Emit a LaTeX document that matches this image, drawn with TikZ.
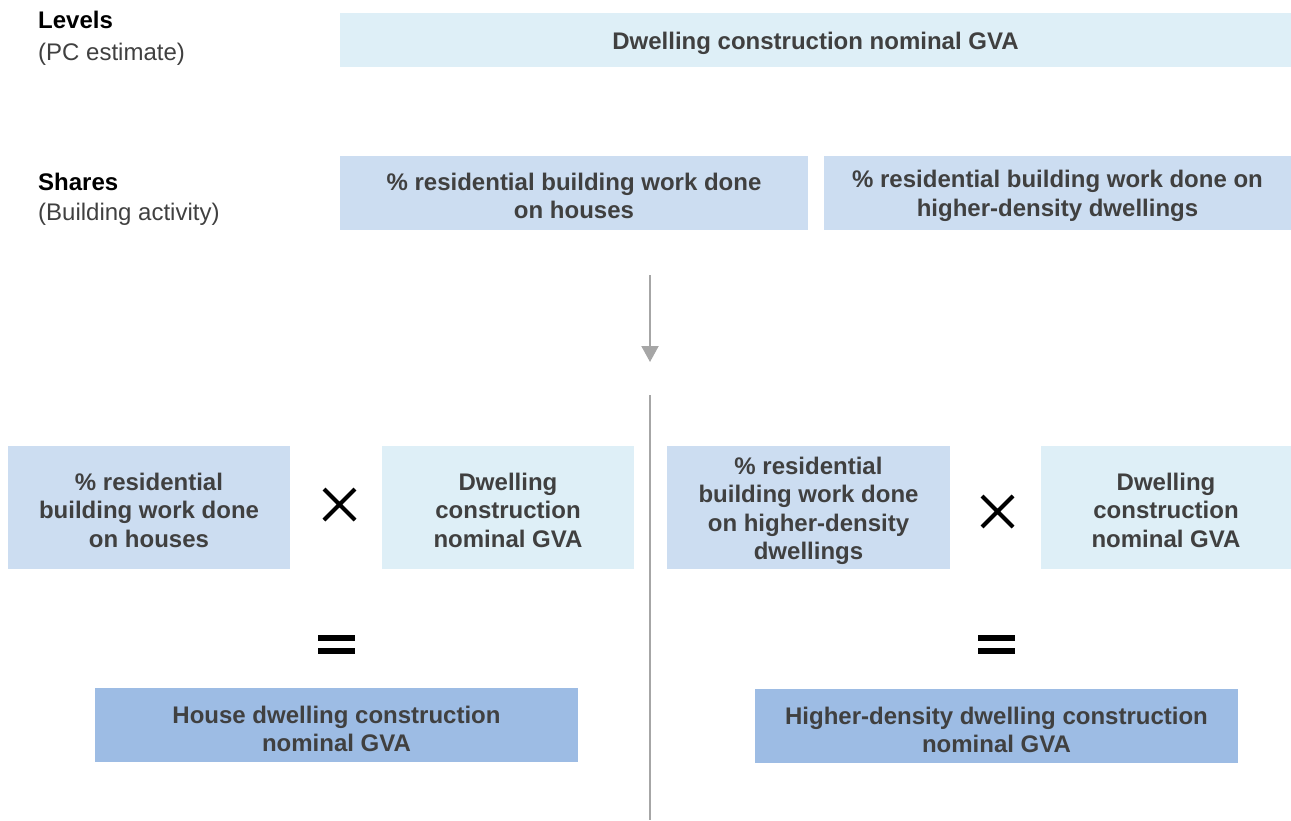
\documentclass[tikz,border=0pt]{standalone}
\usepackage{fontspec}
\setmainfont{Liberation Sans}
\usetikzlibrary{arrows.meta}
\definecolor{lvl}{HTML}{DEEFF7}
\definecolor{shr}{HTML}{CCDDF1}
\definecolor{res}{HTML}{9DBCE4}
\definecolor{txt}{HTML}{404040}
\definecolor{ln}{HTML}{A6A6A6}
\tikzset{
  boxbase/.style={inner sep=0pt, align=center, text=txt, font=\fontsize{24}{28.5}\selectfont\bfseries},
  lvlbox/.style={boxbase, fill=lvl},
  shrbox/.style={boxbase, fill=shr},
  resbox/.style={boxbase, fill=res},
  hdr/.style={anchor=west, inner sep=0pt, font=\fontsize{24}{28}\selectfont\bfseries, text=black},
  sub/.style={anchor=west, inner sep=0pt, font=\fontsize{24}{28}\selectfont, text=txt},
  op/.style={line width=4.2pt, black},
  eq/.style={line width=6pt, black},
}
\begin{document}
\begin{tikzpicture}[x=1pt,y=-1pt]
\useasboundingbox (0,0) rectangle (1291,820);
% labels
\node[hdr] (lv) at (38,20) {Levels};
\node[sub] (lvs) at (38,54) {(PC estimate)};
\node[hdr] (sh) at (38,182) {Shares};
\node[sub] (shs) at (38,214) {(Building activity)};
% top boxes
\path[fill=lvl] (340,13) rectangle (1291,67);
\node[boxbase] (top) at (815.5,43) {Dwelling construction nominal GVA};
\path[fill=shr] (340,156) rectangle (808,230);
\node[boxbase] (shl) at (574,196) {\% residential building work done\\on houses};
\path[fill=shr] (824,156) rectangle (1291,230);
\node[boxbase] (shr) at (1057.5,196) {\% residential building work done on\\higher-density dwellings};
% arrow and divider
\coordinate (a1) at (650,275);
\coordinate (a2) at (650,362);
\draw[ln, line width=2pt, -{Triangle[length=16pt,width=17pt]}] (a1) -- (a2);
\coordinate (d1) at (650,395);
\coordinate (d2) at (650,820);
\draw[ln, line width=2pt] (d1) -- (d2);
% bottom row
\path[fill=shr] (8,446) rectangle (290,569);
\node[boxbase] (b1) at (149,510) {\% residential\\building work done\\on houses};
\path[fill=lvl] (382,446) rectangle (634,569);
\node[boxbase] (b2) at (508,510) {Dwelling\\construction\\nominal GVA};
\path[fill=shr] (667,446) rectangle (950,569);
\node[boxbase] (b3) at (808.5,511) {\% residential\\building work done\\on higher-density\\dwellings};
\path[fill=lvl] (1041,446) rectangle (1291,569);
\node[boxbase] (b4) at (1166,510) {Dwelling\\construction\\nominal GVA};
% operators
\draw[op] (324,489) -- (355,520) (324,520) -- (355,489);
\draw[op] (982,496) -- (1013,527) (982,527) -- (1013,496);
\draw[eq] (318,638) -- (355,638) (318,651) -- (355,651);
\draw[eq] (978,638) -- (1015,638) (978,651) -- (1015,651);
% results
\path[fill=res] (95,688) rectangle (578,762);
\node[boxbase] (r1) at (336.5,729) {House dwelling construction\\nominal GVA};
\path[fill=res] (755,689) rectangle (1238,763);
\node[boxbase] (r2) at (996.5,730) {Higher-density dwelling construction\\nominal GVA};
\end{tikzpicture}
\end{document}
